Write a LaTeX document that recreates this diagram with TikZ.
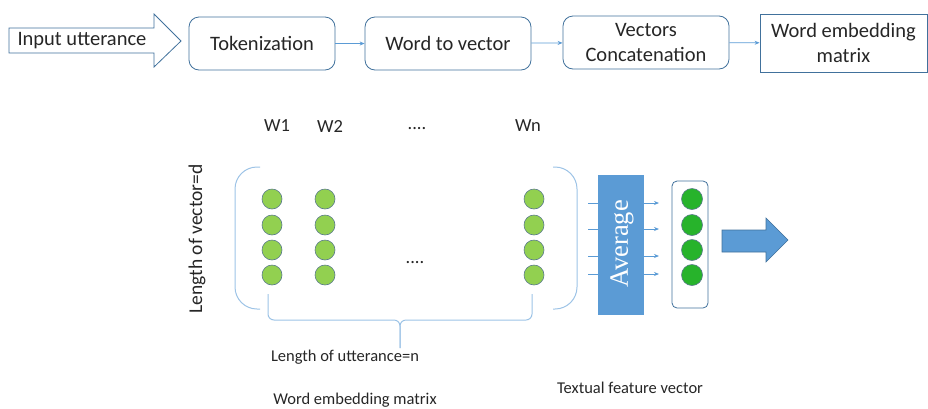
\documentclass[tikz,border=0pt]{standalone}
\usepackage{fontspec}
\setmainfont{Carlito}
\newfontfamily\avgfont{Liberation Serif}
\usetikzlibrary{arrows.meta, positioning}
\definecolor{boxline}{HTML}{41719C}
\definecolor{flowblue}{HTML}{5B9BD5}
\definecolor{parenblue}{HTML}{9DC3E6}
\definecolor{wordgreen}{HTML}{92D050}
\definecolor{featgreen}{HTML}{27B32B}
\definecolor{dotline}{HTML}{5A7A8C}

\begin{document}
\begin{tikzpicture}[x=1pt, y=-1pt, >=Stealth,
    every node/.style={font=\fontsize{20.5}{24.5}\selectfont, text=black!85},
    caption/.style={font=\fontsize{16.5}{20}\selectfont},
    collabel/.style={font=\fontsize{18.5}{22}\selectfont},
    stage/.style={draw=boxline, line width=0.8pt, rounded corners=10pt,
      minimum height=53pt, align=center, inner sep=2pt},
    flow/.style={->, draw=flowblue, line width=0.8pt, >={Stealth[length=5pt, width=4pt]}},
    paren/.style={draw=parenblue, line width=1pt},
    word/.style={circle, draw=dotline, fill=wordgreen, line width=0.6pt,
      minimum size=20pt, inner sep=0pt},
    feat/.style={circle, draw=dotline, fill=featgreen, line width=0.6pt,
      minimum size=21pt, inner sep=0pt}]
  \useasboundingbox (0,0) rectangle (928,408);

  % Pipeline along the top
  \draw[draw=boxline, fill=white, line width=0.8pt]
    (9,28) -- (154,28) -- (154,14) -- (181,41) -- (154,67) -- (154,53) -- (9,53) -- cycle;
  \node (input) at (82,41) {Input utterance};
  \node[stage, minimum width=146pt] (tok) at (262,43.5) {Tokenization};
  \node[stage, minimum width=166pt] (wtv) at (448,43.5) {Word to vector};
  \node[stage, minimum width=166pt] (concat) at (646,42.5) {Vectors\\Concatenation};
  \node[stage, rounded corners=0pt, minimum width=167pt, minimum height=58pt]
    (wem) at (843.5,43) {Word embedding\\matrix};
  \draw[flow] (tok) -- (wtv);
  \draw[flow] (wtv) -- (concat);
  \draw[flow] (concat) -- (wem);

  % Word columns of the embedding matrix
  \node[collabel] (w1) at (277,126) {W1};
  \node[collabel] (w2) at (330,126) {W2};
  \node[collabel] (wdots) at (417,129) {....};
  \node[collabel] (wn) at (528,126) {Wn};
  \foreach \c/\x in {1/272, 2/325, n/534} {
    \foreach \r/\y in {1/199, 2/225, 3/250, 4/275} {
      \node[word] (m\c-\r) at (\x,\y) {};
    }
  }
  \node[collabel] (mdots) at (415,263) {....};

  % Brackets round the matrix
  \draw[paren, rounded corners=22pt] (260,167) -| (235,309) -- (260,309);
  \draw[paren, rounded corners=22pt] (553,167) -| (577,309) -- (553,309);
  \draw[paren, rounded corners=6pt] (268,294) -- (268,320) -- (400,320) -- (400,348);
  \draw[paren, rounded corners=6pt] (532,294) -- (532,320) -- (400,320) -- (400,348);
  \node[rotate=90, font=\fontsize{19.5}{22}\selectfont] (dlen) at (197,239) {Length of vector=d};
  \node[caption] (nlen) at (345,357) {Length of utterance=n};
  \node[caption] (mcap) at (355,400) {Word embedding matrix};

  % Averaging into the feature vector
  \node[fill=flowblue, minimum width=46pt, minimum height=140pt, inner sep=0pt]
    (avg) at (621,245) {};
  \node[rotate=90, text=white, font=\avgfont\fontsize{26.5}{28}\selectfont]
    (avgtext) at (622,244) {Average};
  \foreach \r/\y in {1/203, 2/229, 3/256, 4/274} {
    \coordinate (in\r) at (588,\y);
    \coordinate (out\r) at (659,\y);
    \draw[draw=flowblue, line width=0.8pt] (in\r) -- (in\r -| avg.west);
    \draw[flow] (in\r -| avg.east) -- (out\r);
  }
  \node[draw=boxline, line width=0.8pt, rounded corners=5pt, minimum width=36pt,
    minimum height=127pt] (fvec) at (690,244.5) {};
  \foreach \r/\y in {1/199, 2/225, 3/250, 4/275} {
    \node[feat] (f\r) at (692,\y) {};
  }
  \draw[draw=boxline, fill=flowblue, line width=0.6pt]
    (722,230) -- (766,230) -- (766,218) -- (788,240) -- (766,262) -- (766,252) -- (722,252) -- cycle;
  \node[caption] (fcap) at (630,388) {Textual feature vector};
\end{tikzpicture}
\end{document}
